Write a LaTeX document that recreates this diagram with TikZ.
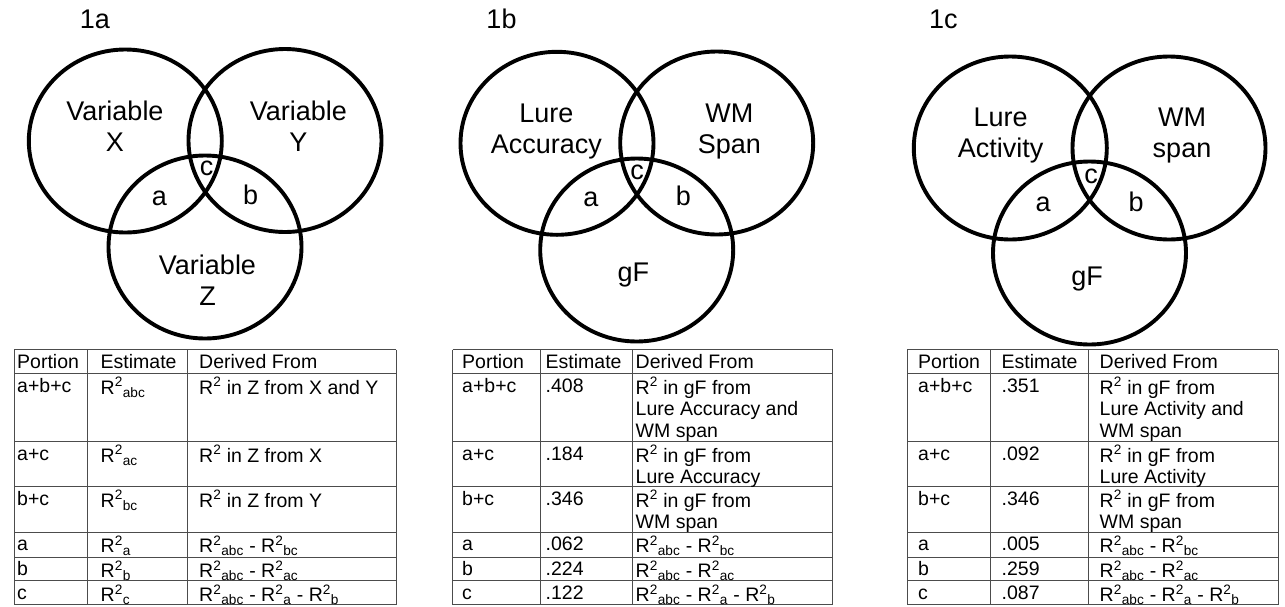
\documentclass[tikz,border=0pt]{standalone}
\usepackage{fontspec}
\setmainfont{Liberation Sans}
\usetikzlibrary{shapes.geometric}

\newcommand{\Rtwo}{R\textsuperscript{2}}
\newcommand{\Rsq}[1]{\Rtwo\textsubscript{#1}}
\newcommand{\vennfont}{\fontsize{27}{31}\selectfont}
\newcommand{\tabfont}{\fontsize{19.5}{21.5}\selectfont}

\begin{document}
\begin{tikzpicture}[x=1pt,y=-1pt,
        venn/.style={draw,ellipse,line width=3.9pt,minimum width=193pt,
                     minimum height=183pt,inner sep=0pt},
        venn text/.style={font=\vennfont,align=center,inner sep=0pt},
        cell/.style={anchor=north west,inner sep=0pt,align=left,font=\tabfont,
                     execute at begin node=\strut},
        rule/.style={line width=1pt,black!70}]

        \useasboundingbox (0,0) rectangle (1285,606);

        % Define circles 1a
        \node[venn] (xa) at (125.3,141) {};
        \node[venn] (ya) at (285,140.5) {};
        \node[venn] (za) at (205,247) {};
        \node[venn text] (ta) at (95,19) {1a};
        \node[venn text] (xa-t) at (115,126.7) {Variable\\X};
        \node[venn text] (ya-t) at (298.3,126.7) {Variable\\Y};
        \node[venn text] (za-t) at (207.5,280) {Variable\\Z};
        \node[venn text] (aa) at (159.3,198) {a};
        \node[venn text] (ba) at (250.7,195) {b};
        \node[venn text] (ca) at (206.7,168.3) {c};

        % Define circles 1b
        \node[venn] (xb) at (557,143.3) {};
        \node[venn] (yb) at (716.7,143) {};
        \node[venn] (zb) at (636.7,250) {};
        \node[venn text] (tb) at (501.5,19) {1b};
        \node[venn text] (xb-t) at (546.3,131.3) {Lure\\Accuracy};
        \node[venn text] (yb-t) at (729.3,131.3) {WM\\Span};
        \node[venn text] (zb-t) at (633.3,275.5) {gF};
        \node[venn text] (ab) at (591,199.3) {a};
        \node[venn text] (bb) at (683.3,196) {b};
        \node[venn text] (cb) at (637,172.5) {c};

        % Define circles 1c
        \node[venn] (xc) at (1010.3,148) {};
        \node[venn] (yc) at (1169,148) {};
        \node[venn] (zc) at (1089.5,253) {};
        \node[venn text] (tc) at (943.3,19) {1c};
        \node[venn text] (xc-t) at (1000.7,135.5) {Lure\\Activity};
        \node[venn text] (yc-t) at (1182,135.5) {WM\\span};
        \node[venn text] (zc-t) at (1087,279) {gF};
        \node[venn text] (ac) at (1043,204.5) {a};
        \node[venn text] (bc) at (1136,201.7) {b};
        \node[venn text] (cc) at (1091,176.3) {c};

        % Table 1a
        \foreach \y in {349.5,373.3,441.5,486.5,532,557,580.7,604.5}
            \draw[rule] (14,\y) -- (396,\y);
        \foreach \x in {14,87,187,396}
            \draw[rule] (\x,349.5) -- (\x,604.5);
        \foreach \n/\y/\p/\e/\d in {
                0/353.1/Portion/Estimate/Derived From,
                1/376.9/a+b+c/\Rsq{abc}/\Rtwo{} in Z from X and Y,
                2/445.1/a+c/\Rsq{ac}/\Rtwo{} in Z from X,
                3/490.1/b+c/\Rsq{bc}/\Rtwo{} in Z from Y,
                4/535.6/a/\Rsq{a}/\Rsq{abc} - \Rsq{bc},
                5/560.6/b/\Rsq{b}/\Rsq{abc} - \Rsq{ac},
                6/584.3/c/\Rsq{c}/\Rsq{abc} - \Rsq{a} - \Rsq{b}} {
            \node[cell] (a-p\n) at (17,\y) {\p};
            \node[cell] (a-e\n) at (100.5,\y) {\e};
            \node[cell] (a-d\n) at (199,\y) {\d};
        }

        % Table 1b
        \foreach \y in {349.5,373.3,441.5,486.5,532,557,580.7,604.5}
            \draw[rule] (452.7,\y) -- (832.7,\y);
        \foreach \x in {452.7,540.7,632.7,832.7}
            \draw[rule] (\x,349.5) -- (\x,604.5);
        \foreach \n/\y/\p/\e/\d in {
                0/353.1/Portion/Estimate/Derived From,
                1/376.9/a+b+c/.408/\Rtwo{} in gF from\\Lure Accuracy and\\WM span,
                2/445.1/a+c/.184/\Rtwo{} in gF from\\Lure Accuracy,
                3/490.1/b+c/.346/\Rtwo{} in gF from\\WM span,
                4/535.6/a/.062/\Rsq{abc} - \Rsq{bc},
                5/560.6/b/.224/\Rsq{abc} - \Rsq{ac},
                6/584.3/c/.122/\Rsq{abc} - \Rsq{a} - \Rsq{b}} {
            \node[cell] (b-p\n) at (462,\y) {\p};
            \node[cell] (b-e\n) at (545.5,\y) {\e};
            \node[cell] (b-d\n) at (635.5,\y) {\d};
        }

        % Table 1c
        \foreach \y in {349.5,373.3,441.5,486.5,532,557,580.7,604.5}
            \draw[rule] (907.3,\y) -- (1278.3,\y);
        \foreach \x in {907.3,990,1088.3,1278.3}
            \draw[rule] (\x,349.5) -- (\x,604.5);
        \foreach \n/\y/\p/\e/\d in {
                0/353.1/Portion/Estimate/Derived From,
                1/376.9/a+b+c/.351/\Rtwo{} in gF from\\Lure Activity and\\WM span,
                2/445.1/a+c/.092/\Rtwo{} in gF from\\Lure Activity,
                3/490.1/b+c/.346/\Rtwo{} in gF from\\WM span,
                4/535.6/a/.005/\Rsq{abc} - \Rsq{bc},
                5/560.6/b/.259/\Rsq{abc} - \Rsq{ac},
                6/584.3/c/.087/\Rsq{abc} - \Rsq{a} - \Rsq{b}} {
            \node[cell] (c-p\n) at (918,\y) {\p};
            \node[cell] (c-e\n) at (1001.5,\y) {\e};
            \node[cell] (c-d\n) at (1099.5,\y) {\d};
        }

\end{tikzpicture}
\end{document}
